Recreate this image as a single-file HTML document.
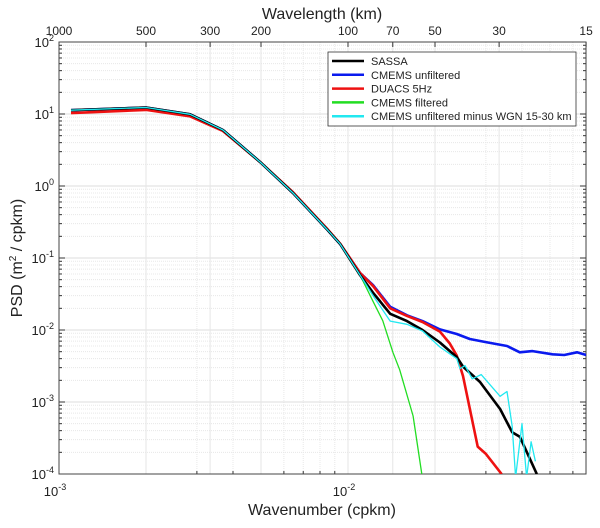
<!DOCTYPE html>
<html><head><meta charset="utf-8"><style>
body{margin:0;background:#fff;}
svg text{font-family:"Liberation Sans",sans-serif;fill:#222;}
</style></head><body>
<svg id="chart" width="600" height="523" xmlns="http://www.w3.org/2000/svg"></svg>
<script>
const commonK=[0.0011,0.002,0.00284,0.00369,0.00497,0.00645,0.0085,0.0094];
const commonP=[11.3,12.3,9.9,6.0,2.15,0.8,0.245,0.156];
const redLowP=[10.3,11.4,9.3,5.8,2.15,0.82,0.25,0.158];
const blueK=[0.011,0.0122,0.014,0.016,0.0181,0.0208,0.0238,0.0264,0.030,0.0355,0.0393,0.0435,0.051,0.056,0.062,0.0667];
const blueP=[0.062,0.042,0.021,0.016,0.0133,0.0102,0.0088,0.0075,0.0068,0.006,0.0049,0.0051,0.0046,0.0045,0.0049,0.0045];
const blackK=[0.011,0.0122,0.014,0.016,0.0181,0.0208,0.0238,0.025,0.0286,0.0336,0.037,0.0393,0.045];
const blackP=[0.058,0.033,0.0168,0.0133,0.010,0.0067,0.0042,0.0031,0.0019,0.0008,0.00038,0.00033,0.0001];
const redK=[0.011,0.0122,0.014,0.016,0.0181,0.0208,0.0225,0.0238,0.025,0.0281,0.030,0.034];
const redP=[0.062,0.041,0.020,0.0157,0.0129,0.0095,0.0065,0.0044,0.0023,0.00024,0.00019,0.0001];
const greenK=[0.011,0.0122,0.0132,0.0143,0.0151,0.0168,0.018];
const greenP=[0.058,0.025,0.0134,0.0049,0.0028,0.00064,0.0001];
const cyanK=[0.011,0.0122,0.014,0.016,0.0181,0.0208,0.0238,0.0244,0.0254,0.0269,0.0289,0.0336,0.0355,0.037,0.038,0.040,0.0415,0.043,0.0445];
const cyanP=[0.058,0.030,0.0133,0.012,0.0097,0.0058,0.0040,0.0029,0.0032,0.0021,0.0024,0.0012,0.0014,0.00046,0.00009,0.0005,0.00009,0.00028,0.00015];
const topTicks=["1000","500","300","200","100","70","50","30","15"];
const topVals=[1000,500,300,200,100,70,50,30,15];

const NS="http://www.w3.org/2000/svg";
const svg=document.getElementById('chart');
const L=59,R=586,T=42,B=474;
const dec=289;
function xs(k){return 348+(Math.log10(k)+2)*dec;}
function ys(p){return T+(2-Math.log10(p))*72;}
function mk(tag,a,parent){const e=document.createElementNS(NS,tag);for(const k in a)e.setAttribute(k,a[k]);(parent||svg).appendChild(e);return e;}
const defs=mk('defs',{});const cp=mk('clipPath',{id:'clip'},defs);mk('rect',{x:L,y:T,width:R-L,height:B-T},cp);
const grid=mk('g',{});


for(let e=-3;e<=-2;e++)for(let m=1;m<10;m++){const k=m*Math.pow(10,e);const x=xs(k);if(x<L||x>R)continue;
 mk('line',{x1:x,x2:x,y1:T,y2:B,stroke:m==1?'#ddd':'#e8e8e8','stroke-dasharray':m==1?'':'1,1'},grid);
 mk('line',{x1:x,x2:x,y1:B,y2:B-(m==1?6:3),stroke:'#333'},grid);}
for(let e=-4;e<2;e++)for(let m=1;m<10;m++){const y=ys(m*Math.pow(10,e));
 mk('line',{x1:L,x2:R,y1:y,y2:y,stroke:m==1?'#ddd':'#e8e8e8','stroke-dasharray':m==1?'':'1,1'},grid);
 mk('line',{x1:L,x2:L+(m==1?6:3),y1:y,y2:y,stroke:'#333'},grid);mk('line',{x1:R,x2:R-(m==1?6:3),y1:y,y2:y,stroke:'#333'},grid);}
topVals.forEach(v=>{const x=xs(1/v);
 mk('line',{x1:x,x2:x,y1:T,y2:B,stroke:'#e6e6e6'},grid);
 mk('line',{x1:x,x2:x,y1:T,y2:T+5,stroke:'#333'},grid);});
const frame=mk('rect',{x:L,y:T,width:R-L,height:B-T,fill:'none',stroke:'#444'});


for(let e=-4;e<=2;e++){const t=mk('text',{x:L-5,y:ys(Math.pow(10,e))+5,'text-anchor':'end','font-size':13});
 
 
 t.innerHTML='10<tspan dy="-6" font-size="9">'+e+'</tspan>';}
[-3,-2].forEach(e=>{const t=mk('text',{x:xs(Math.pow(10,e))-4,y:B+22,'text-anchor':'middle','font-size':13});
 
 
 t.innerHTML='10<tspan dy="-6" font-size="9">'+e+'</tspan>';});
topTicks.forEach((s,i)=>{const t=mk('text',{x:xs(1/topVals[i]),y:T-7,'text-anchor':'middle','font-size':12});
 
 
 t.textContent=s;});
let t=mk('text',{x:322,y:19,'text-anchor':'middle','font-size':16});t.textContent='Wavelength (km)';


t=mk('text',{x:322,y:515,'text-anchor':'middle','font-size':16});t.textContent='Wavenumber (cpkm)';


t=mk('text',{x:22,y:258,'text-anchor':'middle','font-size':16,transform:'rotate(-90 22 258)'});
t.innerHTML='PSD (m<tspan dy="-6" font-size="10">2</tspan><tspan dy="6"> / cpkm)</tspan>';


const series=[
 {n:'cmems-filtered',k:commonK.concat(greenK),p:commonP.concat(greenP),c:'#22dd22',w:1.3},
 {n:'cmems-unfiltered',k:commonK.concat(blueK),p:commonP.concat(blueP),c:'#0a1aee',w:2.6},
 {n:'duacs-5hz',k:commonK.concat(redK),p:redLowP.concat(redP),c:'#ee1111',w:2.6},
 {n:'sassa',k:commonK.concat(blackK),p:commonP.concat(blackP),c:'#000',w:2.6},
 {n:'cmems-unfiltered-minus-wgn',k:commonK.concat(cyanK),p:commonP.concat(cyanP),c:'#22e8f0',w:1.3}];
const g=mk('g',{'clip-path':'url(#clip)'});
series.forEach(s=>{const d=s.k.map((k,i)=>(i?'L':'M')+xs(k).toFixed(1)+','+ys(s.p[i]).toFixed(1)).join('');
 const pth=mk('path',{d:d,fill:'none',stroke:s.c,'stroke-width':s.w,'stroke-linejoin':'round'},g);
 
 });
const lg=mk('g',{});


mk('rect',{x:328,y:52,width:248,height:74,fill:'#fff',stroke:'#333','stroke-width':0.8},lg);
const leg=[['SASSA','#000'],['CMEMS unfiltered','#0a1aee'],['DUACS 5Hz','#ee1111'],['CMEMS filtered','#22dd22'],['CMEMS unfiltered minus WGN 15-30 km','#22e8f0']];
leg.forEach((l,i)=>{const y=61+i*13.8;
 mk('line',{x1:332,x2:364,y1:y,y2:y,stroke:l[1],'stroke-width':2.5},lg);
 const tx=mk('text',{x:371,y:y+4,'font-size':11},lg);tx.textContent=l[0];
 
 });
</script>
</body></html>
